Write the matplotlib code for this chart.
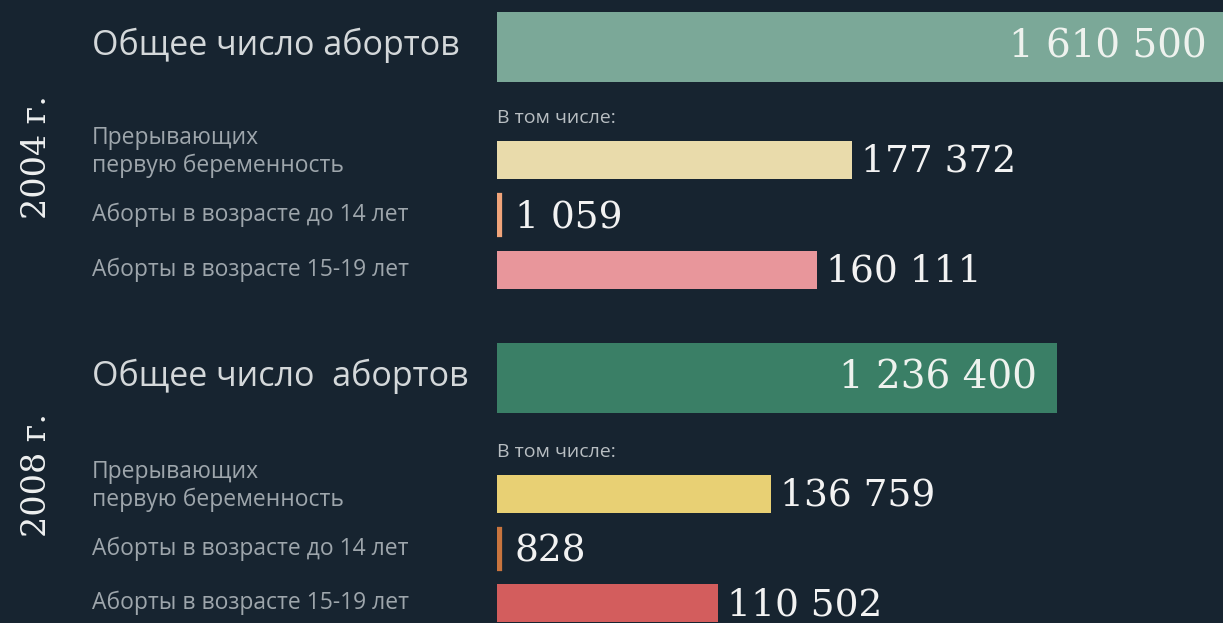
import matplotlib.pyplot as plt
import matplotlib.transforms as mtransforms

# data
years = ["2004 г.", "2008 г."]
total_label = ["Общее число абортов", "Общее число  абортов"]
totals = [1610500, 1236400]
sub_labels = ["Прерывающих\nпервую беременность",
              "Аборты в возрасте до 14 лет",
              "Аборты в возрасте 15-19 лет"]
sub_2004 = [177372, 1059, 160111]
sub_2008 = [136759, 828, 110502]
total_colors = ["#7ba898", "#3a7f66"]
sub_colors_2004 = ["#e9dbab", "#f0a47a", "#e8969b"]
sub_colors_2008 = ["#e8d074", "#c8743e", "#d35d5d"]

def fmt(v):
    return "{:,}".format(v).replace(",", " ")

BG = "#172430"
W, H = 1223, 623
fig = plt.figure(figsize=(W / 100, H / 100), dpi=100, facecolor=BG)

# layout (pixel rows of the infographic)
x0 = 497
total_y = [47, 378]
total_h = 70
sub_y = [[160, 215, 270], [494, 549, 603]]
sub_h = 41
tomchisle_y = [118, 452]
year_y = [157, 475]
k_total = 4.53e-4   # px per abortion, total bars
k_sub = 2.0e-3      # px per abortion, sub bars

ax = fig.add_axes([x0 / W, 0, 1 - x0 / W, 1])
ax.set_facecolor("none")
ax.set_ylim(H, 0)
ax.set_xlim(0, (W - x0) / k_total)
ax.axis("off")

ax2 = ax.twiny()
ax2.set_ylim(H, 0)
ax2.set_xlim(0, (W - x0) / k_sub)
ax2.axis("off")

lab = mtransforms.blended_transform_factory(fig.transFigure, ax.transData)

for i in range(2):
    ax.barh(total_y[i], totals[i], height=total_h, color=total_colors[i], align="center")
    ax.text(totals[i] - 20 / k_total, total_y[i], fmt(totals[i]), ha="right", va="center",
            fontsize=28, family="DejaVu Serif", color="#eef2ee", clip_on=False)
    subs = sub_2004 if i == 0 else sub_2008
    cols = sub_colors_2004 if i == 0 else sub_colors_2008
    # tiny bars get a stroke so they stay visible
    lws = [4.5 if v < 5000 else 0 for v in subs]
    ax2.barh(sub_y[i], subs, height=sub_h - 3, color=cols, edgecolor=cols, linewidth=lws, align="center")
    for v, yy in zip(subs, sub_y[i]):
        ax2.text(v + 9 / k_sub + (7 / k_sub if v < 5000 else 0), yy + 2, fmt(v), ha="left", va="center",
                 fontsize=27, family="DejaVu Serif", color="#f2f2f2", clip_on=False)

    t = fig.text(92 / W, 0, total_label[i], transform=lab, fontsize=24.5, family="Open Sans",
                 color="#d4d8da", va="center", ha="left")
    t.set_position((92 / W, total_y[i] - 2))
    t = fig.text(497 / W, 0, "В том числе:", transform=lab, fontsize=14, family="Open Sans",
                 color="#b8bec2", va="center", ha="left")
    t.set_position((497 / W, tomchisle_y[i]))
    for s, yy in zip(sub_labels, sub_y[i]):
        t = fig.text(92 / W, 0, s, transform=lab, fontsize=16.5, family="Open Sans",
                     color="#9ea6ac", va="center", ha="left", linespacing=1.15)
        t.set_position((92 / W, yy - (8 if "\n" in s else 0)))
    t = fig.text(37 / W, 0, years[i], transform=lab, fontsize=24, family="DejaVu Serif",
                 color="#eef0f0", va="center", ha="center", rotation=90)
    t.set_position((37 / W, year_y[i]))

fig.savefig("out.png", dpi=100, facecolor=BG)
